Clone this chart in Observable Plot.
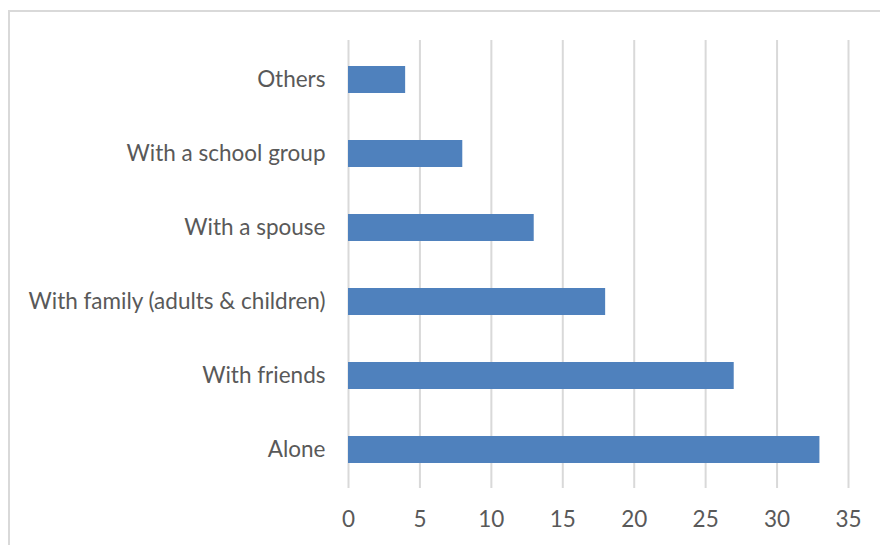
<!DOCTYPE html>
<html>
<head>
<meta charset="utf-8">
<script src="https://cdn.jsdelivr.net/npm/d3@7"></script>
<script src="https://cdn.jsdelivr.net/npm/@observablehq/plot@0.6"></script>
<style>
  html, body { margin: 0; padding: 0; background: #fff; }
  #wrap { position: relative; width: 880px; height: 545px; overflow: hidden; }
  #frame { position: absolute; left: 8px; top: 10px; width: 900px; height: 600px;
           border-left: 2px solid #d9d9d9; border-top: 2px solid #d9d9d9; box-sizing: border-box; }
  #chart { position: absolute; left: 0; top: 0; }
</style>
</head>
<body>
<div id="wrap"><div id="frame"></div><div id="chart"></div></div>
<script>
const categories = ["Others", "With a school group", "With a spouse", "With family (adults & children)", "With friends", "Alone"];
const values = [4, 8, 13, 18, 27, 33];
const xTicks = [0, 5, 10, 15, 20, 25, 30, 35];

const data = categories.map((c, i) => ({category: c, value: values[i]}));

const chart = Plot.plot({
  width: 880,
  height: 545,
  marginLeft: 348,
  marginRight: 32,
  marginTop: 40,
  marginBottom: 57,
  style: {fontFamily: "Lato, sans-serif", fontSize: "22.5px", color: "#595959", background: "transparent"},
  x: {domain: [0, 35], ticks: xTicks, tickSize: 0, label: null},
  y: {domain: categories, paddingInner: 0.64, paddingOuter: 0.32, tickSize: 0, label: null},
  marks: [
    Plot.gridX(xTicks, {stroke: "#d9d9d9", strokeOpacity: 1, strokeWidth: 2}),
    Plot.barX(data, {y: "category", x: "value", fill: "#4f81bd"}),
    Plot.axisX({ticks: xTicks, tickSize: 0, tickPadding: 23, fontSize: 22.5, fill: "#595959"}),
    Plot.axisY({tickSize: 0, tickPadding: 23, fontSize: 22.5, fill: "#595959"})
  ]
});
document.getElementById("chart").appendChild(chart);
</script>
</body>
</html>
